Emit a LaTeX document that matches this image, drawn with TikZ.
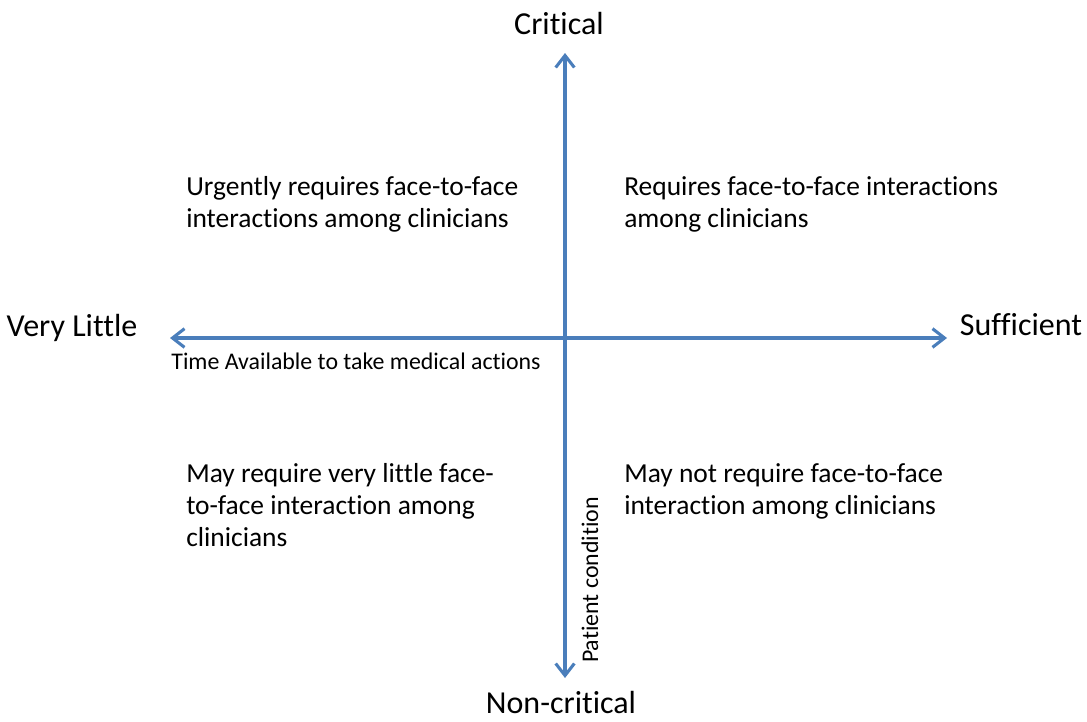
\documentclass[tikz,border=0pt]{standalone}
\usepackage{fontspec}
\setmainfont{Carlito}[Ligatures=NoCommon]
\usetikzlibrary{arrows.meta}
\definecolor{axisblue}{HTML}{4A7EBB}
\tikzset{
	axisline/.style={draw=axisblue, line width=2.3pt, {Straight Barb[length=9pt,width=14pt]}-{Straight Barb[length=9pt,width=14pt]}},
	pole/.style={inner sep=0pt, font=\fontsize{24}{29}\selectfont},
	quad/.style={inner sep=0pt, anchor=north west, align=left, font=\fontsize{20.6}{24}\selectfont},
	note/.style={inner sep=0pt, font=\fontsize{17.9}{21}\selectfont}
}

\begin{document}
\begin{tikzpicture}[x=0.75pt,y=0.75pt,yscale=-1,xscale=1]
		\useasboundingbox (0,0) rectangle (1087,721);
		% axis ends
		\coordinate (top) at (565,53);
		\coordinate (bottom) at (565,678);
		\coordinate (left) at (170,338);
		\coordinate (right) at (947,338);
		\draw [axisline] (bottom) -- (top) ;
		\draw [axisline] (left) -- (right) ;

		\node [pole, anchor=base] (crit) at (559,34) {Critical};
		\node [pole, anchor=base] (noncrit) at (561,713) {Non-critical};
		\node [pole] (little) at (72,328) {Very Little};
		\node [pole] (enough) at (1021,325) {Sufficient};

		\node [note] (time) at (356,361) {Time Available to take medical actions};
		\node [note, rotate=90] (cond) at (590,580) {Patient condition};

		\node [quad] (ul) at (186,176) {Urgently requires face-to-face\\interactions among clinicians};
		\node [quad] (ur) at (624,176) {Requires face-to-face interactions\\among clinicians};
		\node [quad] (ll) at (186,463) {May require very little face-\\to-face interaction among\\clinicians};
		\node [quad] (lr) at (624,463) {May not require face-to-face\\interaction among clinicians};
	\end{tikzpicture}
\end{document}
